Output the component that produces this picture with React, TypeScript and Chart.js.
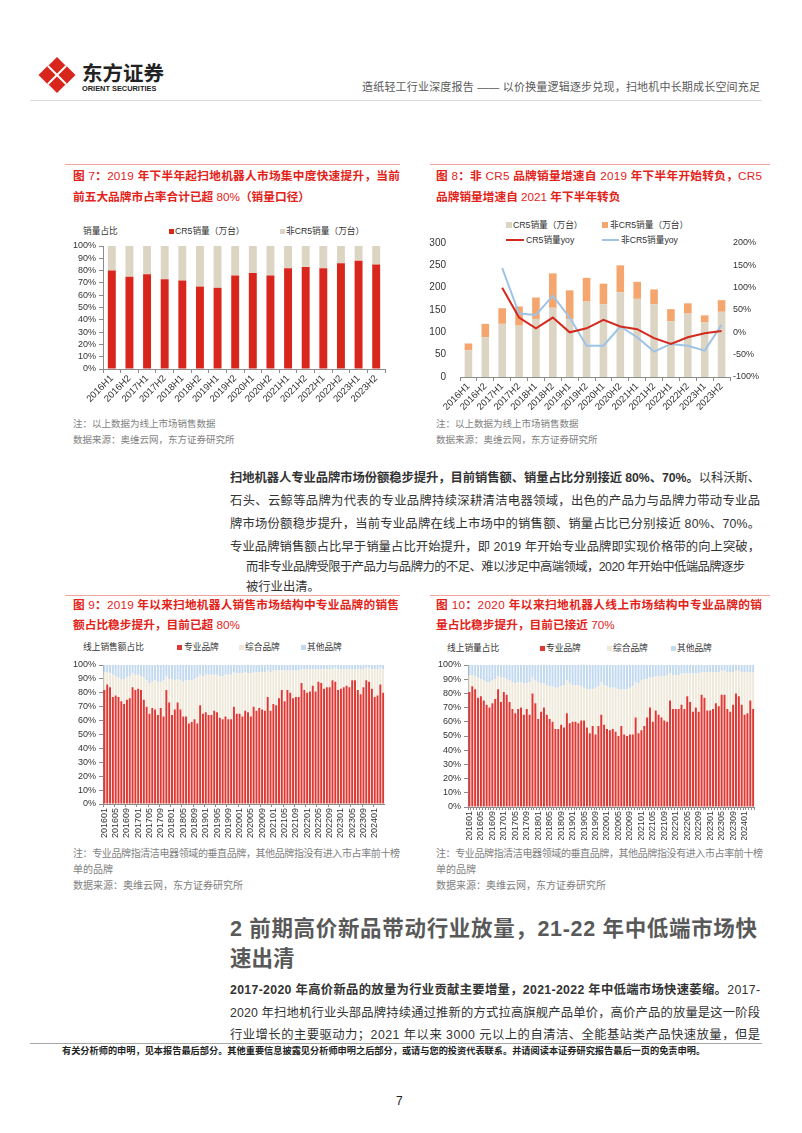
import React, { useEffect, useLayoutEffect, useRef } from 'react';
import { Chart, registerables } from 'chart.js';
Chart.register(...registerables);

const FONT = "'Liberation Sans', Arial, 'Noto Sans CJK SC', sans-serif";

// ---------- Figure 7 / 8 data ----------
const halfYears = ['2016H1', '2016H2', '2017H1', '2017H2', '2018H1', '2018H2', '2019H1', '2019H2', '2020H1', '2020H2', '2021H1', '2021H2', '2022H1', '2022H2', '2023H1', '2023H2'];
const cr5Share = [80, 75, 77, 73, 72, 67, 66, 76, 78, 76, 82, 83, 82, 86, 88, 85];
const nonCr5Share = [20, 25, 23, 27, 28, 33, 34, 24, 22, 24, 18, 17, 18, 14, 12, 15];
const cr5Volume = [60, 89, 119, 115, 130, 155, 130, 169, 163, 190, 175, 163, 125, 142, 122, 146];
const nonCr5Volume = [15, 30, 35, 43, 48, 77, 64, 53, 46, 60, 38, 33, 27, 23, 16, 26];
const cr5Yoy = [null, null, 100, 33, 9, 33, 0, 9, 28, 13, 7, -13, -26, -11, -2, 3];
const nonCr5Yoy = [null, null, 144, 42, 39, 82, 33, -30, -30, 13, -11, -43, -26, -30, -41, 17];

// ---------- Figure 9 / 10 data (monthly, 201601-202404) ----------
const months: string[] = [];
for (let y = 2016; y <= 2024; y++) {
  for (let m = 1; m <= 12; m++) {
    if (y === 2024 && m > 4) break;
    months.push(`${y}${m < 10 ? '0' + m : m}`);
  }
}
const proAmount = [
  82, 86, 84, 77, 78, 77, 74, 72, 75, 76, 84, 82,
  83, 82, 75, 70, 65, 69, 68, 64, 69, 63, 82, 73,
  64, 68, 73, 68, 63, 63, 58, 59, 61, 58, 71, 65,
  66, 64, 64, 67, 66, 62, 61, 63, 61, 61, 70, 65,
  65, 63, 67, 66, 63, 70, 67, 69, 68, 67, 77, 67,
  72, 71, 76, 82, 74, 82, 80, 76, 77, 77, 87, 82,
  80, 81, 85, 81, 88, 87, 83, 84, 84, 89, 88, 82,
  83, 84, 85, 84, 89, 89, 82, 79, 84, 89, 88, 83,
  77, 78, 86, 80,
];
const compAmount = [
  13, 9, 10, 16, 14, 14, 16, 18, 16, 16, 10, 11,
  10, 10, 16, 19, 22, 19, 21, 24, 19, 26, 10, 17,
  26, 21, 17, 21, 25, 26, 31, 30, 29, 33, 22, 27,
  27, 29, 29, 26, 27, 30, 31, 30, 32, 32, 25, 29,
  29, 31, 28, 28, 31, 25, 28, 26, 27, 28, 19, 28,
  24, 25, 20, 14, 22, 14, 16, 20, 19, 19, 10, 15,
  17, 16, 12, 16, 9, 10, 14, 13, 13, 8, 10, 15,
  14, 13, 12, 13, 8, 8, 15, 18, 13, 9, 10, 14,
  20, 19, 12, 17,
];
const otherAmount = [
  5, 5, 6, 7, 8, 9, 10, 10, 9, 8, 6, 7,
  7, 8, 9, 11, 13, 12, 11, 12, 12, 11, 8, 10,
  10, 11, 10, 11, 12, 11, 11, 11, 10, 9, 7, 8,
  7, 7, 7, 7, 7, 8, 8, 7, 7, 7, 5, 6,
  6, 6, 5, 6, 6, 5, 5, 5, 5, 5, 4, 5,
  4, 4, 4, 4, 4, 4, 4, 4, 4, 4, 3, 3,
  3, 3, 3, 3, 3, 3, 3, 3, 3, 3, 2, 3,
  3, 3, 3, 3, 3, 3, 3, 3, 3, 2, 2, 3,
  3, 3, 2, 3,
];
const proVolume = [
  81, 85, 83, 77, 78, 75, 72, 70, 73, 76, 83, 74,
  81, 79, 74, 69, 66, 69, 70, 65, 69, 65, 80, 73,
  62, 67, 70, 65, 62, 60, 55, 55, 58, 56, 66, 59,
  60, 60, 59, 61, 61, 56, 52, 57, 51, 57, 65, 58,
  55, 54, 55, 53, 50, 57, 51, 50, 51, 51, 63, 52,
  54, 57, 63, 70, 60, 68, 65, 63, 61, 60, 75, 69,
  69, 69, 72, 69, 78, 74, 67, 70, 67, 79, 77, 68,
  68, 69, 73, 71, 79, 79, 69, 67, 72, 80, 78, 72,
  65, 66, 75, 69,
];
const compVolume = [
  12, 8, 9, 14, 12, 14, 16, 18, 16, 14, 9, 17,
  10, 11, 15, 19, 21, 19, 18, 22, 18, 23, 11, 16,
  26, 20, 17, 21, 23, 25, 29, 29, 27, 30, 23, 28,
  26, 26, 27, 24, 23, 27, 31, 26, 33, 28, 23, 28,
  30, 30, 29, 31, 33, 26, 32, 33, 33, 34, 25, 35,
  35, 33, 27, 21, 31, 24, 27, 29, 31, 33, 19, 24,
  24, 24, 22, 25, 16, 20, 27, 24, 27, 16, 18, 27,
  27, 26, 22, 24, 17, 17, 26, 28, 23, 16, 18, 23,
  30, 29, 20, 26,
];
const otherVolume = [
  7, 7, 8, 9, 10, 11, 12, 12, 11, 10, 8, 9,
  9, 10, 11, 12, 13, 12, 12, 13, 13, 12, 9, 11,
  12, 13, 13, 14, 15, 15, 16, 16, 15, 14, 11, 13,
  14, 14, 14, 15, 16, 17, 17, 17, 16, 15, 12, 14,
  15, 16, 16, 16, 17, 17, 17, 17, 16, 15, 12, 13,
  11, 10, 10, 9, 9, 8, 8, 8, 8, 7, 6, 7,
  7, 7, 6, 6, 6, 6, 6, 6, 6, 5, 5, 5,
  5, 5, 5, 5, 4, 4, 5, 5, 5, 4, 4, 5,
  5, 5, 5, 5,
];

// ---------- colours ----------
const RED = '#D9261C';
const BEIGE = '#DDD5C4';
const ORANGE = '#F5A66E';
const LINE_RED = '#D42A1E';
const LINE_BLUE = '#9DC3E6';
const M_RED = '#DE3A35';
const M_BEIGE = '#EEE9DA';
const M_BLUE = '#C3D9EF';
const AXIS = '#8C8C8C';
const TXT = '#333333';
const TITLE_RED = '#E2231A';
const NOTE = '#7F7F7F';

const tickFont = { size: 9, family: FONT };
const xTickFont = { size: 9.5, family: FONT };

function ChartBox({ left, top, width, height, makeConfig }: any) {
  const ref = useRef<HTMLCanvasElement>(null);
  useEffect(() => {
    if (!ref.current) return;
    const chart = new Chart(ref.current, makeConfig());
    return () => chart.destroy();
  }, []);
  return (
    <canvas
      ref={ref}
      width={width}
      height={height}
      style={{ position: 'absolute', left, top, width, height }}
    />
  );
}

const baseOpts = (padding: any) => ({
  responsive: false,
  animation: false,
  devicePixelRatio: 1,
  layout: { padding },
  plugins: { legend: { display: false }, tooltip: { enabled: false } },
});

function fig7Config() {
  return {
    type: 'bar',
    data: {
      labels: halfYears,
      datasets: [
        { label: 'CR5销量（万台）', data: cr5Share, backgroundColor: RED, barPercentage: 0.45, categoryPercentage: 1 },
        { label: '非CR5销量（万台）', data: nonCr5Share, backgroundColor: BEIGE, barPercentage: 0.45, categoryPercentage: 1 },
      ],
    },
    options: {
      ...baseOpts({ top: 10, right: 10, left: 0, bottom: 0 }),
      scales: {
        x: {
          stacked: true,
          grid: { drawOnChartArea: false, tickLength: 4, color: AXIS },
          border: { color: AXIS },
          ticks: { font: xTickFont, color: TXT, maxRotation: 45, minRotation: 45, autoSkip: false, padding: 0 },
          afterFit: (s: any) => { s.height = 41; },
        },
        y: {
          stacked: true, min: 0, max: 100,
          ticks: { stepSize: 10, autoSkip: false, callback: (v: any) => v + '%', font: tickFont, color: TXT, padding: 3 },
          grid: { drawOnChartArea: false, tickLength: 4, color: AXIS },
          border: { color: AXIS },
          afterFit: (s: any) => { s.width = 43; },
        },
      },
    },
  };
}

function fig8Config() {
  return {
    type: 'bar',
    data: {
      labels: halfYears,
      datasets: [
        { type: 'line', label: 'CR5销量yoy', data: cr5Yoy, yAxisID: 'y1', borderColor: LINE_RED, borderWidth: 2, pointRadius: 0, order: 0 },
        { type: 'line', label: '非CR5销量yoy', data: nonCr5Yoy, yAxisID: 'y1', borderColor: LINE_BLUE, borderWidth: 2, pointRadius: 0, order: 0 },
        { label: 'CR5销量（万台）', data: cr5Volume, backgroundColor: BEIGE, yAxisID: 'y', stack: 's', barPercentage: 0.45, categoryPercentage: 1, order: 1 },
        { label: '非CR5销量（万台）', data: nonCr5Volume, backgroundColor: ORANGE, yAxisID: 'y', stack: 's', barPercentage: 0.45, categoryPercentage: 1, order: 1 },
      ],
    },
    options: {
      ...baseOpts({ top: 10, right: 0, left: 0, bottom: 0 }),
      scales: {
        x: {
          stacked: true,
          grid: { drawOnChartArea: false, tickLength: 4, color: AXIS },
          border: { color: AXIS },
          ticks: { font: xTickFont, color: TXT, maxRotation: 45, minRotation: 45, autoSkip: false, padding: 0 },
          afterFit: (s: any) => { s.height = 33; },
        },
        y: {
          stacked: true, min: 0, max: 300, position: 'left',
          ticks: { stepSize: 50, autoSkip: false, font: { size: 10, family: FONT }, color: TXT, padding: 6 },
          grid: { display: false },
          border: { display: false },
          afterFit: (s: any) => { s.width = 35; },
        },
        y1: {
          min: -100, max: 200, position: 'right',
          ticks: { stepSize: 50, autoSkip: false, callback: (v: any) => v + '%', font: tickFont, color: TXT, padding: 3 },
          grid: { display: false, drawTicks: false },
          border: { display: false },
          afterFit: (s: any) => { s.width = 45; },
        },
      },
    },
  };
}

function monthlyConfig(pro: number[], comp: number[], other: number[], xHeight: number, everyTick: boolean) {
  return () => ({
    type: 'bar',
    data: {
      labels: months,
      datasets: [
        { label: '专业品牌', data: pro, backgroundColor: M_RED, barPercentage: 0.7, categoryPercentage: 1 },
        { label: '综合品牌', data: comp, backgroundColor: M_BEIGE, barPercentage: 0.7, categoryPercentage: 1 },
        { label: '其他品牌', data: other, backgroundColor: M_BLUE, barPercentage: 0.7, categoryPercentage: 1 },
      ],
    },
    options: {
      ...baseOpts({ top: 10, right: 8, left: 0, bottom: 0 }),
      scales: {
        x: {
          stacked: true,
          grid: {
            drawOnChartArea: false, tickLength: 3,
            color: (ctx: any) => (everyTick || ctx.index % 4 === 0 ? AXIS : 'rgba(0,0,0,0)'),
          },
          border: { color: AXIS },
          ticks: {
            font: tickFont, color: TXT, maxRotation: 90, minRotation: 90, autoSkip: false, padding: 1,
            callback: (_v: any, i: number) => (i % 4 === 0 ? months[i] : ''),
          },
          afterFit: (s: any) => { s.height = xHeight; },
        },
        y: {
          stacked: true, min: 0, max: 100,
          ticks: { stepSize: 10, autoSkip: false, callback: (v: any) => v + '%', font: tickFont, color: TXT, padding: 3 },
          grid: { drawOnChartArea: false, tickLength: 4, color: AXIS },
          border: { color: AXIS },
          afterFit: (s: any) => { s.width = 43; },
        },
      },
    },
  });
}

function T({ x, y, size = 12, color = TXT, weight = 400, right, children, family = FONT }: any) {
  const lh = Math.round(size * 1.5);
  const style: any = {
    position: 'absolute', top: y - lh / 2, fontSize: size, lineHeight: lh + 'px', color, fontWeight: weight,
    fontFamily: family, whiteSpace: 'nowrap',
  };
  if (right !== undefined) style.right = right; else style.left = x;
  return <div style={style}>{children}</div>;
}

// single line stretched / squeezed to exactly `w` pixels via letter-spacing
function Fit({ x, y, w, size = 12, color = TXT, weight = 400, children, family = FONT }: any) {
  const ref = useRef<HTMLDivElement>(null);
  const lh = Math.round(size * 1.5);
  useLayoutEffect(() => {
    const el = ref.current;
    if (!el) return;
    el.style.letterSpacing = '0px';
    const natural = el.getBoundingClientRect().width;
    const n = (el.textContent || '').length;
    if (n > 1) el.style.letterSpacing = (w - natural) / (n - 1) + 'px';
  }, []);
  return (
    <div
      ref={ref}
      style={{
        position: 'absolute', left: x, top: y - lh / 2, fontSize: size, lineHeight: lh + 'px', color,
        fontWeight: weight, fontFamily: family, whiteSpace: 'nowrap', display: 'inline-block',
      }}
    >
      {children}
    </div>
  );
}

function mixed(text: string) {
  return text.split(/([\x20-\x7E]+)/).map((p, i) =>
    /^[\x20-\x7E]+$/.test(p) ? <span key={i} style={{ fontWeight: 400 }}>{p}</span> : <span key={i}>{p}</span>
  );
}

function Sq({ x, y, c, s = 6 }: any) {
  return <div style={{ position: 'absolute', left: x, top: y - s / 2, width: s, height: s, background: c }} />;
}
function Ln({ x, y, w, c }: any) {
  return <div style={{ position: 'absolute', left: x, top: y - 1, width: w, height: 2, background: c }} />;
}
function HR({ x, y, w, c, h = 1 }: any) {
  return <div style={{ position: 'absolute', left: x, top: y, width: w, height: h, background: c }} />;
}

export default function App() {
  const titleStyle = { size: 11.7, color: TITLE_RED, weight: 700 };
  const legendSize = 8.7;
  const P = 12.3;
  return (
    <div style={{ position: 'absolute', left: 0, top: 0, width: 802, height: 1133, background: '#fff', overflow: 'hidden', fontFamily: FONT }}>
      {/* header */}
      <svg style={{ position: 'absolute', left: 38, top: 56 }} width={38} height={38} viewBox="0 0 38 38">
        <g fill="#D9261C">
          <polygon points="19,1 28,10 19,19 10,10" />
          <polygon points="10,10 19,19 10,28 1,19" transform="translate(-0.5,0)" />
          <polygon points="28,10 37,19 28,28 19,19" transform="translate(0.5,0)" />
          <polygon points="19,19 28,28 19,37 10,28" />
        </g>
        <g stroke="#fff" strokeWidth={2}>
          <line x1="10" y1="10" x2="28" y2="28" />
          <line x1="28" y1="10" x2="10" y2="28" />
        </g>
      </svg>
      <T x={82} y={72} size={20.5} weight={700} color="#222" family="'Noto Sans CJK SC', sans-serif">东方证券</T>
      <T x={82} y={88.5} size={7.4} weight={700} color="#222">ORIENT SECURITIES</T>
      <Fit x={362} y={87} w={398} size={11} color="#595959">造纸轻工行业深度报告 —— 以价换量逻辑逐步兑现，扫地机中长期成长空间充足</Fit>
      <HR x={30} y={100} w={732} c="#D9D9D9" />

      {/* figure 7 */}
      <HR x={65} y={164} w={335} c="#F2A59C" />
      <Fit x={73} y={176} w={327} {...titleStyle}>{mixed('图 7：2019 年下半年起扫地机器人市场集中度快速提升，当前')}</Fit>
      <T x={73} y={197} {...titleStyle}>{mixed('前五大品牌市占率合计已超 80%（销量口径）')}</T>
      <T x={83} y={231} size={legendSize}>销量占比</T>
      <Sq x={169} y={231} c={RED} s={5} />
      <T x={175} y={231} size={legendSize}>CR5销量（万台）</T>
      <Sq x={280} y={231} c={BEIGE} s={5} />
      <T x={286} y={231} size={legendSize}>非CR5销量（万台）</T>
      <ChartBox left={60} top={236} width={335} height={174} makeConfig={fig7Config} />
      <T x={73} y={424} size={9.5} color={NOTE}>注：以上数据为线上市场销售数据</T>
      <T x={73} y={440} size={9.5} color={NOTE}>数据来源：奥维云网，东方证券研究所</T>

      {/* figure 8 */}
      <HR x={430} y={164} w={340} c="#F2A59C" />
      <Fit x={436} y={176} w={326} {...titleStyle}>{mixed('图 8：非 CR5 品牌销量增速自 2019 年下半年开始转负，CR5')}</Fit>
      <T x={436} y={197} {...titleStyle}>{mixed('品牌销量增速自 2021 年下半年转负')}</T>
      <Sq x={506} y={225} c={BEIGE} s={6} />
      <T x={513} y={225} size={legendSize}>CR5销量（万台）</T>
      <Sq x={602} y={225} c={ORANGE} s={6} />
      <T x={610} y={225} size={legendSize}>非CR5销量（万台）</T>
      <Ln x={506} y={240} w={18} c={LINE_RED} />
      <T x={526} y={240} size={legendSize}>CR5销量yoy</T>
      <Ln x={602} y={240} w={17} c={LINE_BLUE} />
      <T x={621} y={240} size={legendSize}>非CR5销量yoy</T>
      <ChartBox left={425} top={231} width={350} height={179} makeConfig={fig8Config} />
      <T x={436} y={424} size={9.5} color={NOTE}>注：以上数据为线上市场销售数据</T>
      <T x={436} y={440} size={9.5} color={NOTE}>数据来源：奥维云网，东方证券研究所</T>

      {/* paragraph 1 */}
      <Fit x={230} y={478} w={530} size={P}>
        <b>扫地机器人专业品牌市场份额稳步提升，目前销售额、销量占比分别接近 80%、70%。</b>以科沃斯、
      </Fit>
      <Fit x={230} y={501} w={530} size={P}>石头、云鲸等品牌为代表的专业品牌持续深耕清洁电器领域，出色的产品力与品牌力带动专业品</Fit>
      <Fit x={230} y={524} w={530} size={P}>牌市场份额稳步提升，当前专业品牌在线上市场中的销售额、销量占比已分别接近 80%、70%。</Fit>
      <Fit x={230} y={547} w={530} size={P}>专业品牌销售额占比早于销量占比开始提升，即 2019 年开始专业品牌即实现价格带的向上突破，</Fit>
      <Fit x={246} y={567} w={499} size={P}>而非专业品牌受限于产品力与品牌力的不足、难以涉足中高端领域，2020 年开始中低端品牌逐步</Fit>
      <T x={246} y={587} size={P}>被行业出清。</T>

      {/* figure 9 */}
      <HR x={65} y={595} w={335} c="#F2A59C" />
      <Fit x={73} y={605} w={326} {...titleStyle}>{mixed('图 9：2019 年以来扫地机器人销售市场结构中专业品牌的销售')}</Fit>
      <T x={73} y={625} {...titleStyle}>{mixed('额占比稳步提升，目前已超 80%')}</T>
      <T x={83} y={647} size={legendSize}>线上销售额占比</T>
      <Sq x={177} y={647} c={M_RED} s={5} />
      <T x={184} y={647} size={legendSize}>专业品牌</T>
      <Sq x={239} y={647} c={M_BEIGE} s={5} />
      <T x={245} y={647} size={legendSize}>综合品牌</T>
      <Sq x={301} y={647} c={M_BLUE} s={5} />
      <T x={307} y={647} size={legendSize}>其他品牌</T>
      <ChartBox left={60} top={655} width={335} height={185} makeConfig={monthlyConfig(proAmount, compAmount, otherAmount, 36, false)} />
      <Fit x={73} y={853} w={327} size={10} color={NOTE}>注：专业品牌指清洁电器领域的垂直品牌，其他品牌指没有进入市占率前十榜</Fit>
      <T x={73} y={869} size={10} color={NOTE}>单的品牌</T>
      <T x={73} y={885} size={10} color={NOTE}>数据来源：奥维云网，东方证券研究所</T>

      {/* figure 10 */}
      <HR x={430} y={595} w={340} c="#F2A59C" />
      <Fit x={436} y={605} w={326} {...titleStyle}>{mixed('图 10：2020 年以来扫地机器人线上市场结构中专业品牌的销')}</Fit>
      <T x={436} y={625} {...titleStyle}>{mixed('量占比稳步提升，目前已接近 70%')}</T>
      <T x={447} y={648} size={legendSize}>线上销量占比</T>
      <Sq x={540} y={648} c={M_RED} s={5} />
      <T x={546} y={648} size={legendSize}>专业品牌</T>
      <Sq x={607} y={648} c={M_BEIGE} s={5} />
      <T x={613} y={648} size={legendSize}>综合品牌</T>
      <Sq x={671} y={648} c={M_BLUE} s={5} />
      <T x={677} y={648} size={legendSize}>其他品牌</T>
      <ChartBox left={425} top={655} width={340} height={185} makeConfig={monthlyConfig(proVolume, compVolume, otherVolume, 33, true)} />
      <Fit x={436} y={853} w={327} size={10} color={NOTE}>注：专业品牌指清洁电器领域的垂直品牌，其他品牌指没有进入市占率前十榜</Fit>
      <T x={436} y={869} size={10} color={NOTE}>单的品牌</T>
      <T x={436} y={885} size={10} color={NOTE}>数据来源：奥维云网，东方证券研究所</T>

      {/* section 2 */}
      <Fit x={230} y={929} w={527} size={21.5} weight={700} color="#595959">2 前期高价新品带动行业放量，21-22 年中低端市场快</Fit>
      <T x={230} y={959} size={21.5} weight={700} color="#595959">速出清</T>
      <Fit x={230} y={990} w={530} size={P}>
        <b>2017-2020 年高价新品的放量为行业贡献主要增量，2021-2022 年中低端市场快速萎缩。</b>2017-
      </Fit>
      <Fit x={230} y={1013} w={530} size={P}>2020 年扫地机行业头部品牌持续通过推新的方式拉高旗舰产品单价，高价产品的放量是这一阶段</Fit>
      <Fit x={230} y={1035} w={530} size={P}>行业增长的主要驱动力；2021 年以来 3000 元以上的自清洁、全能基站类产品快速放量，但是</Fit>

      {/* footer */}
      <HR x={30} y={1043} w={732} c="#A6A6A6" />
      <T x={62} y={1051} size={9.2} weight={700} color="#222">有关分析师的申明，见本报告最后部分。其他重要信息披露见分析师申明之后部分，或请与您的投资代表联系。并请阅读本证券研究报告最后一页的免责申明。</T>
      <T x={396} y={1101} size={12} color="#222">7</T>
    </div>
  );
}
